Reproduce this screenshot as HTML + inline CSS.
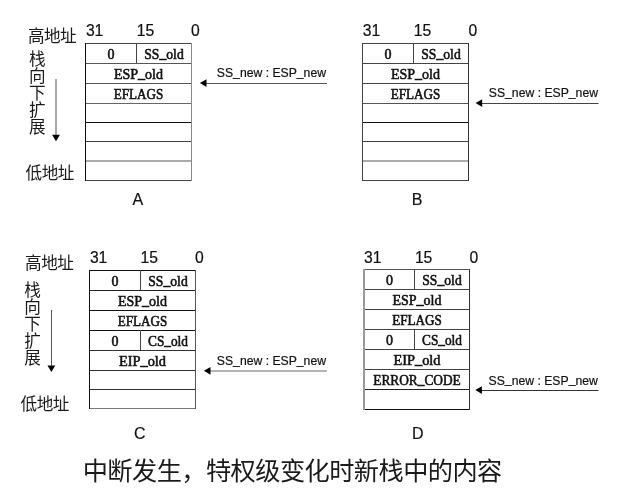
<!DOCTYPE html>
<html lang="zh"><head><meta charset="utf-8"><title>中断发生，特权级变化时新栈中的内容</title>
<style>
html,body{margin:0;padding:0;background:#fff;}
body{width:637px;height:492px;overflow:hidden;font-family:"Liberation Sans",sans-serif;}
svg{display:block;position:absolute;left:0;top:0;will-change:transform;filter:grayscale(1);}
.s{font-family:"Liberation Sans",sans-serif;fill:#111;stroke:#111;stroke-width:.2px;}
.r{font-family:"Liberation Serif",serif;fill:#111;stroke:#111;stroke-width:.55px;}
.h{fill:#1a1a1a;stroke:none;font-family:"Liberation Sans","Noto Sans CJK SC",sans-serif;}
.g{fill:#1a1a1a;}
</style></head><body>
<svg width="637" height="492" viewBox="0 0 637 492">
<rect width="637" height="492" fill="#fff"/>
<rect x="85" y="43" width="107" height="1" fill="#444"/>
<rect x="85" y="63" width="107" height="1" fill="#555"/>
<rect x="85" y="83" width="107" height="1" fill="#555"/>
<rect x="85" y="103" width="107" height="1" fill="#666"/>
<rect x="85" y="122" width="107" height="1" fill="#111"/>
<rect x="85" y="141" width="107" height="1" fill="#444"/>
<rect x="85" y="160" width="107" height="2" fill="#aaa"/>
<rect x="85" y="180" width="107" height="1" fill="#444"/>
<rect x="85" y="43" width="1" height="138" fill="#111"/>
<rect x="191" y="43" width="1" height="138" fill="#888"/>
<rect x="136" y="43" width="1" height="20" fill="#444"/>
<rect x="362" y="43" width="107" height="1" fill="#444"/>
<rect x="362" y="63" width="107" height="1" fill="#444"/>
<rect x="362" y="83" width="107" height="1" fill="#444"/>
<rect x="362" y="103" width="107" height="1" fill="#555"/>
<rect x="362" y="122" width="107" height="1" fill="#111"/>
<rect x="362" y="141" width="107" height="1" fill="#444"/>
<rect x="362" y="160" width="107" height="2" fill="#aaa"/>
<rect x="362" y="180" width="107" height="1" fill="#444"/>
<rect x="362" y="43" width="1" height="138" fill="#444"/>
<rect x="468" y="43" width="1" height="138" fill="#333"/>
<rect x="413" y="43" width="1" height="20" fill="#444"/>
<rect x="89" y="270" width="107" height="1" fill="#111"/>
<rect x="89" y="290" width="107" height="1" fill="#222"/>
<rect x="89" y="310" width="107" height="1" fill="#111"/>
<rect x="89" y="330" width="107" height="1" fill="#111"/>
<rect x="89" y="350" width="107" height="1" fill="#333"/>
<rect x="89" y="370" width="107" height="1" fill="#333"/>
<rect x="89" y="389" width="107" height="1" fill="#333"/>
<rect x="89" y="408" width="107" height="1" fill="#777"/>
<rect x="89" y="270" width="1" height="139" fill="#111"/>
<rect x="195" y="270" width="1" height="139" fill="#555"/>
<rect x="140" y="270" width="1" height="20" fill="#444"/>
<rect x="140" y="330" width="1" height="20" fill="#444"/>
<rect x="364" y="269" width="106" height="1" fill="#555"/>
<rect x="364" y="289" width="106" height="1" fill="#444"/>
<rect x="364" y="309" width="106" height="1" fill="#444"/>
<rect x="364" y="329" width="106" height="1" fill="#444"/>
<rect x="364" y="349" width="106" height="1" fill="#444"/>
<rect x="364" y="369" width="106" height="1" fill="#444"/>
<rect x="364" y="389" width="106" height="1" fill="#222"/>
<rect x="364" y="409" width="106" height="1" fill="#111"/>
<rect x="363" y="269" width="2" height="141" fill="#999"/>
<rect x="469" y="269" width="1" height="141" fill="#333"/>
<rect x="414" y="269" width="1" height="20" fill="#444"/>
<rect x="414" y="329" width="1" height="20" fill="#444"/>
<text class="s" x="85.9" y="35.7" font-size="15.7" text-anchor="start">31</text>
<text class="s" x="136.8" y="35.7" font-size="15.7" text-anchor="start">15</text>
<text class="s" x="190.9" y="35.7" font-size="15.7" text-anchor="start">0</text>
<text class="s" x="362.7" y="35.7" font-size="15.7" text-anchor="start">31</text>
<text class="s" x="413.8" y="35.7" font-size="15.7" text-anchor="start">15</text>
<text class="s" x="468.5" y="35.7" font-size="15.7" text-anchor="start">0</text>
<text class="s" x="89.9" y="263" font-size="15.7" text-anchor="start">31</text>
<text class="s" x="140.5" y="263" font-size="15.7" text-anchor="start">15</text>
<text class="s" x="195" y="263" font-size="15.7" text-anchor="start">0</text>
<text class="s" x="364" y="262.8" font-size="15.7" text-anchor="start">31</text>
<text class="s" x="414.9" y="262.8" font-size="15.7" text-anchor="start">15</text>
<text class="s" x="469.5" y="262.8" font-size="15.7" text-anchor="start">0</text>
<text class="s" x="137.8" y="204.8" font-size="16" text-anchor="middle">A</text>
<text class="s" x="417.2" y="204.8" font-size="16" text-anchor="middle">B</text>
<text class="s" x="139.8" y="439" font-size="16" text-anchor="middle">C</text>
<text class="s" x="417.8" y="439" font-size="16" text-anchor="middle">D</text>
<text class="r" x="111" y="59" font-size="14" text-anchor="middle">0</text>
<text class="r" x="164" y="59" font-size="14" text-anchor="middle" textLength="39.5" lengthAdjust="spacingAndGlyphs">SS<tspan dy="-0.7">_</tspan><tspan dy="0.7">old</tspan></text>
<text class="r" x="138.5" y="79" font-size="14" text-anchor="middle" textLength="49" lengthAdjust="spacingAndGlyphs">ESP<tspan dy="-0.7">_</tspan><tspan dy="0.7">old</tspan></text>
<text class="r" x="138.5" y="99" font-size="14" text-anchor="middle" textLength="49.6" lengthAdjust="spacingAndGlyphs">EFLAGS</text>
<text class="r" x="388" y="59" font-size="14" text-anchor="middle">0</text>
<text class="r" x="441" y="59" font-size="14" text-anchor="middle" textLength="39.5" lengthAdjust="spacingAndGlyphs">SS<tspan dy="-0.7">_</tspan><tspan dy="0.7">old</tspan></text>
<text class="r" x="415.5" y="79" font-size="14" text-anchor="middle" textLength="49" lengthAdjust="spacingAndGlyphs">ESP<tspan dy="-0.7">_</tspan><tspan dy="0.7">old</tspan></text>
<text class="r" x="415.5" y="99" font-size="14" text-anchor="middle" textLength="49.6" lengthAdjust="spacingAndGlyphs">EFLAGS</text>
<text class="r" x="115" y="286" font-size="14" text-anchor="middle">0</text>
<text class="r" x="168" y="286" font-size="14" text-anchor="middle" textLength="39.5" lengthAdjust="spacingAndGlyphs">SS<tspan dy="-0.7">_</tspan><tspan dy="0.7">old</tspan></text>
<text class="r" x="142.5" y="306" font-size="14" text-anchor="middle" textLength="49" lengthAdjust="spacingAndGlyphs">ESP<tspan dy="-0.7">_</tspan><tspan dy="0.7">old</tspan></text>
<text class="r" x="142.5" y="326" font-size="14" text-anchor="middle" textLength="49.6" lengthAdjust="spacingAndGlyphs">EFLAGS</text>
<text class="r" x="115" y="346" font-size="14" text-anchor="middle">0</text>
<text class="r" x="168" y="346" font-size="14" text-anchor="middle" textLength="40" lengthAdjust="spacingAndGlyphs">CS<tspan dy="-0.7">_</tspan><tspan dy="0.7">old</tspan></text>
<text class="r" x="142.5" y="366" font-size="14" text-anchor="middle" textLength="47" lengthAdjust="spacingAndGlyphs">EIP<tspan dy="-0.7">_</tspan><tspan dy="0.7">old</tspan></text>
<text class="r" x="389.5" y="285" font-size="14" text-anchor="middle">0</text>
<text class="r" x="442" y="285" font-size="14" text-anchor="middle" textLength="39.5" lengthAdjust="spacingAndGlyphs">SS<tspan dy="-0.7">_</tspan><tspan dy="0.7">old</tspan></text>
<text class="r" x="417" y="305" font-size="14" text-anchor="middle" textLength="49" lengthAdjust="spacingAndGlyphs">ESP<tspan dy="-0.7">_</tspan><tspan dy="0.7">old</tspan></text>
<text class="r" x="417" y="325" font-size="14" text-anchor="middle" textLength="49.6" lengthAdjust="spacingAndGlyphs">EFLAGS</text>
<text class="r" x="389.5" y="345" font-size="14" text-anchor="middle">0</text>
<text class="r" x="442" y="345" font-size="14" text-anchor="middle" textLength="40" lengthAdjust="spacingAndGlyphs">CS<tspan dy="-0.7">_</tspan><tspan dy="0.7">old</tspan></text>
<text class="r" x="417" y="365" font-size="14" text-anchor="middle" textLength="47" lengthAdjust="spacingAndGlyphs">EIP<tspan dy="-0.7">_</tspan><tspan dy="0.7">old</tspan></text>
<text class="r" x="417" y="385" font-size="14" text-anchor="middle" textLength="87.5" lengthAdjust="spacingAndGlyphs">ERROR<tspan dy="-0.7">_</tspan><tspan dy="0.7">CODE</tspan></text>
<rect x="202.9" y="83" width="124.1" height="1" fill="#555"/>
<path d="M199.9 83.1 L206.5 79.2 L206.5 87 Z" fill="#000"/>
<text class="s" x="216.8" y="77.2" font-size="12" text-anchor="start" textLength="109.2" lengthAdjust="spacingAndGlyphs">SS<tspan dy="-1.5">_</tspan><tspan dy="1.5">new : ESP</tspan><tspan dy="-1.5">_</tspan><tspan dy="1.5">new</tspan></text>
<rect x="478.6" y="103" width="119.9" height="1" fill="#444"/>
<path d="M475.6 103.1 L482.2 99.2 L482.2 107 Z" fill="#000"/>
<text class="s" x="488.8" y="97.2" font-size="12" text-anchor="start" textLength="109.2" lengthAdjust="spacingAndGlyphs">SS<tspan dy="-1.5">_</tspan><tspan dy="1.5">new : ESP</tspan><tspan dy="-1.5">_</tspan><tspan dy="1.5">new</tspan></text>
<rect x="206.9" y="370" width="119.9" height="2" fill="#b4b4b4"/>
<path d="M203.9 370.8 L210.5 366.9 L210.5 374.7 Z" fill="#000"/>
<text class="s" x="216.8" y="365.2" font-size="12" text-anchor="start" textLength="109.2" lengthAdjust="spacingAndGlyphs">SS<tspan dy="-1.5">_</tspan><tspan dy="1.5">new : ESP</tspan><tspan dy="-1.5">_</tspan><tspan dy="1.5">new</tspan></text>
<rect x="478.3" y="390" width="120.2" height="1" fill="#333"/>
<path d="M475.3 390.1 L481.9 386.2 L481.9 394 Z" fill="#000"/>
<text class="s" x="488.6" y="384.5" font-size="12" text-anchor="start" textLength="109.2" lengthAdjust="spacingAndGlyphs">SS<tspan dy="-1.5">_</tspan><tspan dy="1.5">new : ESP</tspan><tspan dy="-1.5">_</tspan><tspan dy="1.5">new</tspan></text>
<rect x="55" y="79" width="2" height="59.2" fill="#aaa"/>
<path d="M56 141.2 L52.1 134.7 L59.9 134.7 Z" fill="#000"/>
<rect x="51" y="310" width="1" height="58.9" fill="#555"/>
<path d="M51.4 371.9 L47.5 365.4 L55.3 365.4 Z" fill="#000"/>
<g class="g"><text class="h" x="27.9" y="41.7" font-size="16.6" textLength="48.8" lengthAdjust="spacing">高地址</text></g>
<g class="g"><text class="h" x="25.6" y="179.2" font-size="16.6" textLength="48.8" lengthAdjust="spacing">低地址</text></g>
<g class="g"><text class="h" x="28.9" y="64.7" font-size="16.6">栈</text></g>
<g class="g"><text class="h" x="28.9" y="81.8" font-size="16.6">向</text></g>
<g class="g"><text class="h" x="28.9" y="98.9" font-size="16.6">下</text></g>
<g class="g"><text class="h" x="28.9" y="116.1" font-size="16.6">扩</text></g>
<g class="g"><text class="h" x="28.9" y="133.2" font-size="16.6">展</text></g>
<g class="g"><text class="h" x="25.1" y="269.2" font-size="16.6" textLength="48.8" lengthAdjust="spacing">高地址</text></g>
<g class="g"><text class="h" x="20.6" y="409.9" font-size="16.6" textLength="48.8" lengthAdjust="spacing">低地址</text></g>
<g class="g"><text class="h" x="24.3" y="295.5" font-size="16.6">栈</text></g>
<g class="g"><text class="h" x="24.3" y="312.6" font-size="16.6">向</text></g>
<g class="g"><text class="h" x="24.3" y="329.8" font-size="16.6">下</text></g>
<g class="g"><text class="h" x="24.3" y="346.9" font-size="16.6">扩</text></g>
<g class="g"><text class="h" x="24.3" y="364.1" font-size="16.6">展</text></g>
<g class="g"><text class="h" x="82.7" y="480.2" font-size="25.2" textLength="419.6" lengthAdjust="spacing">中断发生，特权级变化时新栈中的内容</text></g>
</svg></body></html>
